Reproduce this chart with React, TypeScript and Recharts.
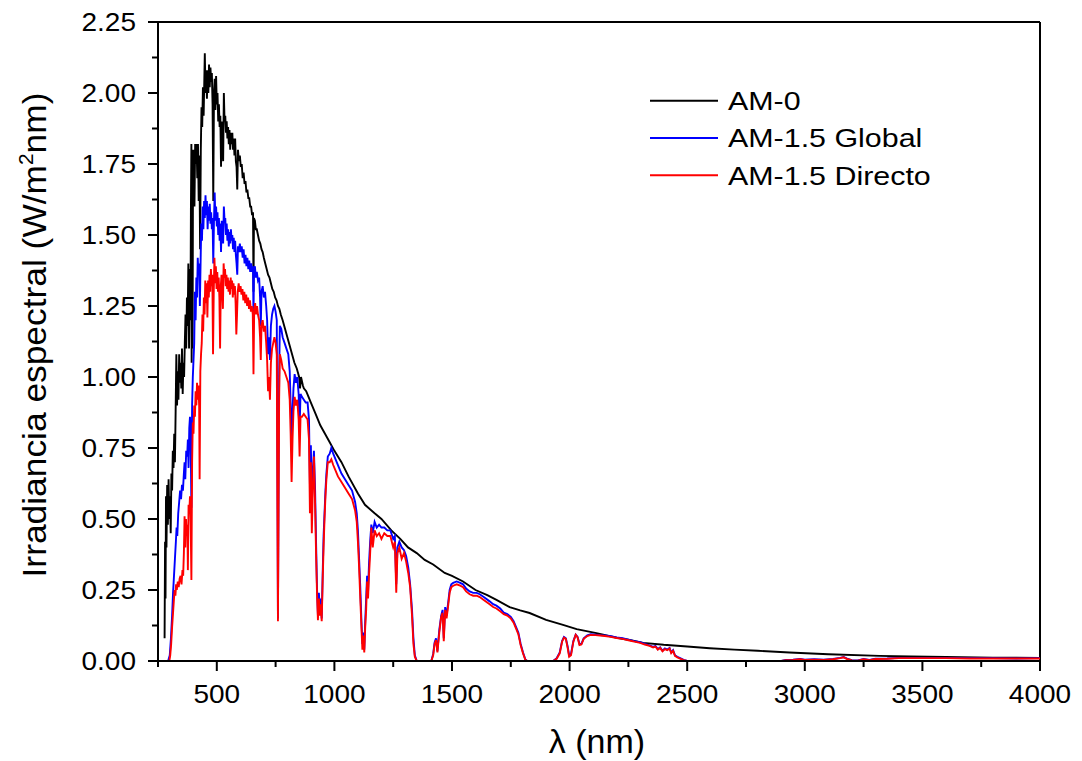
import React from 'react';
import { LineChart, Line, XAxis, YAxis, ReferenceLine } from 'recharts';

const FONT = '"Liberation Sans", Arial, Helvetica, sans-serif';

// wavelength (nm), irradiance (W/m2 nm)
const AM0: [number, number][] = [
  [278,0.08],[280,0.42],[282,0.22],[284,0.58],[286,0.40],[289,0.62],[292,0.48],[295,0.64],[298,0.50],[301,0.58],[304,0.45],[307,0.66],[310,0.60],[313,0.74],[316,0.68],[319,0.80],[322,0.70],[325,0.88],[328,1.08],[331,0.90],[334,1.02],[337,0.92],[340,1.08],[343,0.98],[346,1.05],[349,0.96],[352,1.10],[355,0.94],[358,1.05],[361,1.00],[364,1.12],[367,1.22],[370,1.10],[373,1.28],[376,1.18],[379,1.40],[382,1.10],[385,1.38],[388,1.20],[390,1.60],[392,1.82],[393,1.05],[395,1.80],[397,1.10],[399,1.78],[402,1.80],[405,1.60],[408,1.82],[411,1.75],[414,1.82],[417,1.70],[420,1.82],[423,1.62],[426,1.78],[429,1.45],[432,1.80],[435,1.95],[438,1.88],[441,2.02],[444,1.92],[447,2.05],[449,2.14],[452,2.00],[455,2.08],[458,1.98],[461,2.08],[464,2.00],[467,2.10],[470,2.02],[473,2.09],[476,2.04],[479,2.07],[482,1.96],[485,1.62],[488,2.00],[491,2.05],[494,1.94],[497,2.06],[500,1.96],[503,2.00],[506,1.90],[509,1.96],[512,1.88],[515,1.92],[518,1.74],[521,1.90],[524,1.82],[527,1.76],[530,2.00],[533,1.90],[536,1.92],[539,1.86],[542,1.90],[545,1.84],[548,1.88],[551,1.82],[554,1.87],[557,1.80],[560,1.86],[563,1.82],[566,1.86],[569,1.80],[572,1.84],[575,1.78],[578,1.84],[581,1.76],[584,1.74],[587,1.66],[590,1.80],[594,1.76],[598,1.78],[602,1.74],[606,1.75],[610,1.70],[614,1.72],[618,1.68],[622,1.69],[626,1.65],[630,1.66],[634,1.63],[638,1.63],[642,1.60],[646,1.60],[650,1.57],[654,1.58],[656,1.30],[658,1.56],[662,1.55],[666,1.52],[670,1.52],[675,1.50],[680,1.48],[685,1.47],[690,1.45],[695,1.44],[700,1.42],[706,1.40],[712,1.38],[718,1.36],[724,1.35],[730,1.33],[736,1.31],[742,1.30],[748,1.28],[754,1.27],[760,1.25],[766,1.24],[772,1.22],[780,1.20],[790,1.17],[800,1.14],[810,1.11],[820,1.08],[830,1.05],[840,1.03],[850,1.00],[854,0.96],[858,1.00],[866,0.97],[870,0.96],[880,0.95],[890,0.93],[900,0.91],[920,0.87],[940,0.83],[960,0.80],[980,0.77],[1000,0.74],[1030,0.70],[1060,0.65],[1100,0.59],[1130,0.55],[1171,0.52],[1200,0.50],[1242,0.46],[1280,0.43],[1313,0.40],[1350,0.38],[1384,0.356],[1420,0.34],[1469,0.31],[1500,0.30],[1547,0.28],[1600,0.25],[1650,0.232],[1689,0.215],[1745,0.19],[1790,0.178],[1830,0.169],[1900,0.145],[1972,0.127],[2030,0.112],[2114,0.098],[2200,0.082],[2255,0.074],[2313,0.064],[2400,0.057],[2500,0.051],[2596,0.045],[2700,0.04],[2800,0.036],[2935,0.03],[3100,0.024],[3318,0.018],[3450,0.016],[3600,0.014],[3800,0.012],[4000,0.011],
];

const AM15_GLOBAL: [number, number][] = [
  [293,0],[300,0.02],[305,0.08],[310,0.16],[314,0.24],[318,0.30],[322,0.36],[326,0.42],[329,0.47],[332,0.44],[336,0.52],[340,0.56],[344,0.60],[348,0.57],[352,0.62],[356,0.60],[360,0.66],[363,0.70],[366,0.64],[370,0.74],[374,0.72],[377,0.78],[380,0.68],[383,0.82],[386,0.86],[389,0.78],[392,0.54],[395,0.90],[398,1.00],[401,1.06],[404,1.12],[407,1.30],[410,1.20],[413,1.35],[416,1.28],[419,1.42],[422,1.36],[425,1.40],[428,1.25],[431,1.40],[434,1.54],[437,1.48],[440,1.60],[443,1.52],[446,1.62],[449,1.56],[452,1.64],[455,1.57],[458,1.62],[461,1.52],[464,1.60],[467,1.55],[470,1.61],[473,1.54],[476,1.58],[479,1.52],[482,1.56],[485,1.40],[488,1.55],[491,1.65],[494,1.55],[497,1.60],[500,1.53],[503,1.58],[506,1.50],[509,1.56],[512,1.48],[515,1.54],[518,1.44],[521,1.55],[524,1.50],[527,1.47],[530,1.60],[533,1.55],[536,1.56],[539,1.50],[542,1.54],[545,1.48],[548,1.52],[551,1.46],[554,1.51],[557,1.47],[560,1.52],[563,1.48],[566,1.50],[569,1.45],[572,1.49],[575,1.44],[578,1.48],[581,1.43],[584,1.40],[587,1.36],[590,1.46],[594,1.44],[598,1.47],[602,1.44],[606,1.46],[610,1.42],[614,1.45],[618,1.40],[622,1.43],[626,1.39],[630,1.42],[634,1.38],[638,1.41],[642,1.37],[646,1.40],[650,1.37],[654,1.39],[656,1.20],[658,1.38],[662,1.39],[666,1.35],[670,1.37],[675,1.34],[680,1.35],[684,1.28],[687,1.18],[690,1.30],[695,1.32],[700,1.28],[705,1.30],[710,1.25],[714,1.20],[718,1.08],[722,1.14],[726,1.06],[730,1.18],[735,1.22],[740,1.24],[745,1.25],[750,1.23],[755,1.20],[758,0.60],[760,0.15],[762,0.50],[765,1.00],[768,1.18],[774,1.17],[780,1.14],[788,1.12],[796,1.10],[804,1.08],[810,1.02],[814,0.90],[818,0.74],[822,0.88],[826,0.96],[831,1.01],[836,0.98],[842,1.00],[848,0.94],[852,0.82],[856,0.94],[862,0.93],[870,0.92],[878,0.91],[886,0.91],[892,0.85],[896,0.62],[900,0.76],[904,0.54],[908,0.66],[913,0.74],[918,0.60],[922,0.42],[926,0.26],[930,0.16],[934,0.24],[938,0.18],[942,0.22],[946,0.15],[950,0.30],[954,0.44],[958,0.52],[962,0.60],[966,0.66],[972,0.72],[980,0.73],[987,0.75],[995,0.73],[1005,0.71],[1015,0.69],[1030,0.66],[1045,0.64],[1060,0.62],[1075,0.60],[1088,0.56],[1095,0.52],[1100,0.46],[1105,0.36],[1110,0.26],[1115,0.14],[1119,0.06],[1123,0.10],[1127,0.04],[1131,0.14],[1135,0.22],[1139,0.30],[1143,0.24],[1147,0.34],[1152,0.42],[1157,0.48],[1163,0.45],[1171,0.49],[1180,0.47],[1190,0.48],[1200,0.47],[1212,0.47],[1225,0.46],[1238,0.46],[1250,0.43],[1257,0.44],[1263,0.27],[1268,0.40],[1276,0.42],[1286,0.40],[1296,0.39],[1305,0.37],[1314,0.33],[1322,0.27],[1330,0.18],[1336,0.08],[1342,0.02],[1350,0],[1412,0],[1420,0.025],[1426,0.065],[1432,0.08],[1438,0.035],[1446,0.11],[1454,0.16],[1460,0.18],[1465,0.08],[1471,0.19],[1477,0.16],[1483,0.20],[1490,0.25],[1497,0.27],[1505,0.275],[1520,0.28],[1535,0.275],[1547,0.27],[1560,0.255],[1575,0.245],[1590,0.24],[1605,0.24],[1618,0.235],[1635,0.225],[1660,0.21],[1675,0.20],[1689,0.195],[1705,0.185],[1720,0.17],[1735,0.165],[1750,0.155],[1762,0.14],[1772,0.12],[1782,0.10],[1792,0.06],[1802,0.03],[1812,0.005],[1820,0],[1930,0],[1945,0.01],[1958,0.03],[1968,0.07],[1976,0.085],[1984,0.08],[1992,0.05],[1998,0.02],[2006,0.025],[2016,0.07],[2026,0.093],[2034,0.085],[2042,0.06],[2050,0.06],[2060,0.08],[2075,0.09],[2090,0.094],[2110,0.093],[2130,0.091],[2150,0.09],[2175,0.087],[2200,0.083],[2225,0.08],[2250,0.075],[2275,0.07],[2300,0.066],[2320,0.06],[2340,0.055],[2355,0.05],[2365,0.053],[2375,0.042],[2385,0.048],[2395,0.036],[2405,0.044],[2415,0.04],[2425,0.046],[2432,0.03],[2440,0.038],[2448,0.02],[2458,0.015],[2470,0.01],[2485,0.004],[2500,0],[2900,0],[2920,0.004],[2950,0.005],[2980,0.007],[3000,0.005],[3040,0.006],[3080,0.005],[3120,0.007],[3150,0.011],[3165,0.014],[3180,0.008],[3200,0.003],[3225,0.002],[3250,0.007],[3275,0.004],[3300,0.008],[3350,0.009],[3400,0.011],[3450,0.011],[3500,0.011],[3600,0.011],[3700,0.01],[3800,0.01],[3900,0.009],[4000,0.01],
];

const AM15_DIRECT: [number, number][] = [
  [290,0],[298,0],[302,0.02],[306,0.06],[310,0.12],[314,0.17],[318,0.22],[321,0.25],[324,0.23],[327,0.27],[330,0.25],[334,0.28],[338,0.26],[342,0.29],[346,0.30],[350,0.27],[354,0.32],[357,0.30],[360,0.38],[363,0.51],[366,0.40],[369,0.50],[372,0.44],[375,0.48],[377,0.32],[380,0.55],[383,0.52],[386,0.58],[389,0.48],[392,0.285],[395,0.70],[398,0.84],[401,0.80],[404,0.90],[407,0.86],[410,0.95],[413,0.90],[416,0.98],[419,0.92],[422,0.97],[425,0.90],[427,0.64],[430,1.02],[433,1.08],[436,1.12],[439,1.22],[442,1.16],[445,1.28],[448,1.22],[451,1.34],[454,1.26],[457,1.33],[460,1.21],[463,1.34],[466,1.28],[469,1.36],[472,1.30],[475,1.38],[478,1.32],[481,1.36],[484,1.08],[487,1.30],[490,1.42],[493,1.33],[496,1.39],[499,1.31],[502,1.37],[505,1.30],[508,1.35],[511,1.28],[514,1.10],[517,1.32],[520,1.36],[523,1.30],[526,1.24],[529,1.40],[532,1.35],[535,1.38],[538,1.32],[541,1.36],[544,1.31],[547,1.35],[550,1.30],[553,1.34],[556,1.29],[559,1.35],[562,1.31],[565,1.34],[568,1.28],[571,1.33],[574,1.29],[577,1.32],[580,1.26],[583,1.15],[586,1.22],[589,1.30],[593,1.33],[597,1.30],[601,1.32],[605,1.29],[609,1.31],[613,1.27],[617,1.30],[621,1.26],[625,1.29],[629,1.25],[633,1.28],[637,1.24],[641,1.27],[645,1.23],[649,1.25],[653,1.22],[656,1.01],[659,1.24],[663,1.26],[667,1.22],[671,1.25],[675,1.22],[680,1.20],[684,1.14],[687,1.06],[690,1.18],[695,1.20],[700,1.16],[705,1.18],[710,1.12],[714,1.06],[718,0.95],[722,1.00],[726,0.92],[730,1.05],[735,1.10],[740,1.12],[745,1.14],[750,1.12],[755,1.08],[758,0.50],[760,0.14],[762,0.45],[765,0.92],[768,1.08],[774,1.06],[780,1.03],[788,1.02],[796,1.00],[804,0.98],[810,0.92],[814,0.80],[818,0.63],[822,0.78],[826,0.88],[831,0.93],[836,0.90],[842,0.92],[848,0.85],[852,0.72],[856,0.86],[862,0.86],[870,0.87],[878,0.86],[886,0.85],[892,0.78],[896,0.52],[900,0.70],[904,0.45],[908,0.60],[913,0.72],[918,0.55],[922,0.38],[926,0.24],[930,0.144],[934,0.22],[938,0.16],[942,0.20],[946,0.14],[950,0.28],[954,0.40],[958,0.50],[962,0.58],[966,0.64],[972,0.70],[980,0.70],[987,0.71],[995,0.69],[1005,0.67],[1015,0.65],[1030,0.63],[1045,0.61],[1060,0.59],[1075,0.57],[1088,0.53],[1095,0.49],[1100,0.42],[1105,0.33],[1110,0.22],[1115,0.12],[1119,0.04],[1123,0.09],[1127,0.03],[1131,0.12],[1135,0.18],[1139,0.28],[1143,0.22],[1147,0.30],[1152,0.38],[1157,0.47],[1163,0.40],[1171,0.46],[1180,0.44],[1190,0.45],[1200,0.43],[1212,0.45],[1225,0.44],[1238,0.44],[1250,0.40],[1257,0.42],[1263,0.24],[1268,0.38],[1276,0.40],[1286,0.36],[1296,0.38],[1305,0.35],[1314,0.31],[1322,0.26],[1330,0.16],[1336,0.06],[1342,0.015],[1350,0],[1412,0],[1420,0.02],[1426,0.06],[1432,0.074],[1438,0.03],[1446,0.10],[1454,0.156],[1460,0.17],[1465,0.07],[1471,0.18],[1477,0.15],[1483,0.19],[1490,0.24],[1497,0.26],[1505,0.265],[1520,0.27],[1535,0.265],[1547,0.26],[1560,0.245],[1575,0.235],[1590,0.23],[1605,0.23],[1618,0.225],[1635,0.215],[1660,0.20],[1675,0.19],[1689,0.185],[1705,0.175],[1720,0.165],[1735,0.16],[1750,0.15],[1762,0.135],[1772,0.115],[1782,0.095],[1792,0.055],[1802,0.027],[1812,0.004],[1820,0],[1930,0],[1945,0.008],[1958,0.027],[1968,0.068],[1976,0.082],[1984,0.078],[1992,0.045],[1998,0.015],[2006,0.02],[2016,0.068],[2026,0.092],[2034,0.083],[2042,0.056],[2050,0.058],[2060,0.078],[2075,0.088],[2090,0.092],[2110,0.091],[2130,0.09],[2150,0.088],[2175,0.085],[2200,0.081],[2225,0.078],[2250,0.073],[2275,0.068],[2300,0.064],[2320,0.058],[2340,0.053],[2355,0.048],[2365,0.051],[2375,0.04],[2385,0.046],[2395,0.034],[2405,0.042],[2415,0.038],[2425,0.044],[2432,0.028],[2440,0.036],[2448,0.018],[2458,0.013],[2470,0.008],[2485,0.003],[2500,0],[2900,0],[2920,0.003],[2950,0.004],[2980,0.006],[3000,0.004],[3040,0.005],[3080,0.004],[3120,0.006],[3150,0.01],[3165,0.013],[3180,0.007],[3200,0.002],[3225,0.001],[3250,0.006],[3275,0.003],[3300,0.007],[3350,0.008],[3400,0.01],[3450,0.01],[3500,0.01],[3600,0.01],[3700,0.009],[3800,0.009],[3900,0.009],[4000,0.009],
];

const X_TICKS = [250, 500, 750, 1000, 1250, 1500, 1750, 2000, 2250, 2500, 2750, 3000, 3250, 3500, 3750, 4000];
const X_LABELED = [500, 1000, 1500, 2000, 2500, 3000, 3500, 4000];
const Y_TICKS = [0, 0.125, 0.25, 0.375, 0.5, 0.625, 0.75, 0.875, 1, 1.125, 1.25, 1.375, 1.5, 1.625, 1.75, 1.875, 2, 2.125, 2.25];
const Y_LABELED = [0, 0.25, 0.5, 0.75, 1, 1.25, 1.5, 1.75, 2, 2.25];

const SERIES = [
  { name: 'AM-0', color: '#000000', points: AM0 },
  { name: 'AM-1.5 Global', color: '#0000ff', points: AM15_GLOBAL },
  { name: 'AM-1.5 Directo', color: '#ff0000', points: AM15_DIRECT },
];

const toRows = (pts: [number, number][]) => pts.map(([wl, v]) => ({ wl, v }));

const XTick = (props: any) => {
  const { x, y, payload } = props;
  const major = X_LABELED.includes(payload.value);
  return (
    <g>
      <line x1={x} x2={x} y1={y} y2={y + (major ? 10 : 6)} stroke="#000" strokeWidth={2} />
      {major && (
        <text
          transform={`translate(${x},${y + 42}) scale(1.12,1)`}
          textAnchor="middle"
          fontSize={25}
          fontFamily={FONT}
          fill="#000"
        >
          {payload.value}
        </text>
      )}
    </g>
  );
};

const YTick = (props: any) => {
  const { x, y, payload } = props;
  const major = Y_LABELED.some((v) => Math.abs(v - payload.value) < 1e-9);
  return (
    <g>
      <line x1={x} x2={x - (major ? 10 : 6)} y1={y} y2={y} stroke="#000" strokeWidth={2} />
      {major && (
        <text
          transform={`translate(${x - 22},${y + 9}) scale(1.12,1)`}
          textAnchor="end"
          fontSize={25}
          fontFamily={FONT}
          fill="#000"
        >
          {payload.value.toFixed(2)}
        </text>
      )}
    </g>
  );
};

const XTitle = (props: any) => {
  const vb = props.viewBox || { x: 158, y: 661, width: 882 };
  return (
    <text x={vb.x + vb.width / 2 - 2} y={vb.y + 92} textAnchor="middle" fontSize={34} fontFamily={FONT} fill="#000">
      λ (nm)
    </text>
  );
};

const YTitle = () => (
  <text
    x={0}
    y={0}
    transform="translate(46, 335) rotate(-90) scale(1.04,1)"
    textAnchor="middle"
    fontSize={34}
    fontFamily={FONT}
    fill="#000"
  >
    Irradiancia espectral (W/m
    <tspan dy={-13} fontSize={20}>2</tspan>
    <tspan dy={13}>nm)</tspan>
  </text>
);

export default function App() {
  return (
    <div style={{ position: 'absolute', left: 0, top: 0, width: 1082, height: 761, background: '#fff' }}>
      <LineChart width={1082} height={761} margin={{ top: 22, right: 42, left: 0, bottom: 0 }}>
        <XAxis
          type="number"
          dataKey="wl"
          domain={[250, 4000]}
          ticks={X_TICKS}
          interval={0}
          allowDataOverflow
          height={100}
          tickSize={0}
          tickMargin={0}
          tickLine={false}
          tick={<XTick />}
          axisLine={{ stroke: '#000', strokeWidth: 2 }}
          label={(p: any) => <XTitle {...p} />}
        />
        <YAxis
          type="number"
          dataKey="v"
          domain={[0, 2.25]}
          ticks={Y_TICKS}
          interval={0}
          allowDataOverflow
          width={158}
          tickSize={0}
          tickMargin={0}
          tickLine={false}
          tick={<YTick />}
          axisLine={{ stroke: '#000', strokeWidth: 2 }}
          label={() => <YTitle />}
        />
        <ReferenceLine y={2.25} stroke="#000" strokeWidth={2} ifOverflow="extendDomain" />
        <ReferenceLine x={4000} stroke="#000" strokeWidth={2} ifOverflow="extendDomain" />
        {SERIES.map((s) => (
          <Line
            key={s.name}
            data={toRows(s.points)}
            dataKey="v"
            name={s.name}
            type="linear"
            stroke={s.color}
            strokeWidth={1.9}
            dot={false}
            activeDot={false}
            isAnimationActive={false}
          />
        ))}
      </LineChart>
      <svg width={1082} height={761} style={{ position: 'absolute', left: 0, top: 0, pointerEvents: 'none' }}>
        {SERIES.map((s, i) => (
          <g key={s.name}>
            <line x1={650} x2={718} y1={100.7 + i * 37.3} y2={100.7 + i * 37.3} stroke={s.color} strokeWidth={2} />
            <text
              transform={`translate(728, ${110 + i * 37.3}) scale(1.17,1)`}
              fontSize={26}
              fontFamily={FONT}
              fill="#000"
            >
              {s.name}
            </text>
          </g>
        ))}
      </svg>
    </div>
  );
}
